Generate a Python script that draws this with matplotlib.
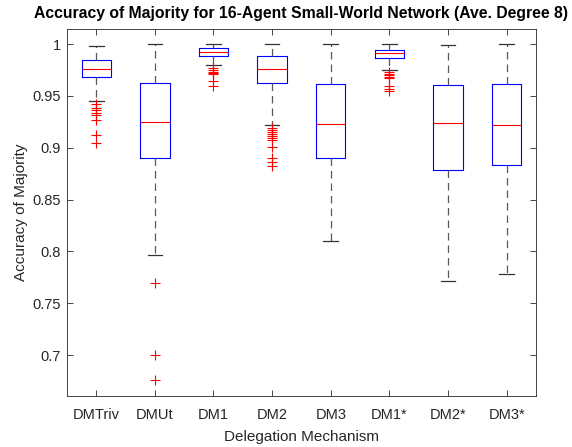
import matplotlib
matplotlib.use('Agg')
import matplotlib.pyplot as plt
from matplotlib.ticker import FuncFormatter

plt.rcParams['font.family'] = ['Liberation Sans', 'DejaVu Sans']

# summary statistics for each delegation mechanism
mechanisms = ['DMTriv', 'DMUt', 'DM1', 'DM2', 'DM3', 'DM1*', 'DM2*', 'DM3*']
whisker_high = [0.9978, 1.0, 1.0, 1.0, 1.0, 0.9998, 0.9987, 1.0]
q3 = [0.9846, 0.9627, 0.9958, 0.9887, 0.9614, 0.9945, 0.9604, 0.9617]
medians = [0.9756, 0.9244, 0.9923, 0.9756, 0.9231, 0.9910, 0.9240, 0.9218]
q1 = [0.9680, 0.8906, 0.9887, 0.9620, 0.8903, 0.9862, 0.8784, 0.8835]
whisker_low = [0.9450, 0.7970, 0.9794, 0.9221, 0.8098, 0.9746, 0.7719, 0.7780]
outliers = [
    [0.9418, 0.9385, 0.9363, 0.9340, 0.9320, 0.9266, 0.9120, 0.9050],
    [0.7693, 0.6998, 0.6757],
    [0.9770, 0.9750, 0.9733, 0.9717, 0.9707, 0.9643, 0.9592],
    [0.9192, 0.9170, 0.9153, 0.9131, 0.9112, 0.9095, 0.9073, 0.9003,
     0.8903, 0.8864, 0.8822],
    [],
    [0.9727, 0.9710, 0.9698, 0.9684, 0.9669, 0.9595, 0.9569, 0.9546],
    [],
    [],
]

stats = []
for i, name in enumerate(mechanisms):
    stats.append(dict(label=name, med=medians[i], q1=q1[i], q3=q3[i],
                      whislo=whisker_low[i], whishi=whisker_high[i],
                      fliers=outliers[i]))

fig = plt.figure(figsize=(5.72, 4.47), dpi=100)
ax = fig.add_axes([0.117, 0.115, 0.82, 0.82])

ax.bxp(stats, positions=range(1, len(mechanisms) + 1), widths=0.5,
       boxprops=dict(color='blue', linewidth=0.8),
       medianprops=dict(color='red', linewidth=0.8),
       whiskerprops=dict(color='0.35', linewidth=0.9, linestyle=(0, (6, 4))),
       capprops=dict(color='0.2', linewidth=0.9),
       flierprops=dict(marker='+', markeredgecolor='red', markersize=7,
                       markeredgewidth=0.8, linestyle='none'))

ax.set_xlim(0.5, 8.5)
ax.set_ylim(0.661, 1.0145)
ax.set_yticks([0.7, 0.75, 0.8, 0.85, 0.9, 0.95, 1.0])
ax.yaxis.set_major_formatter(FuncFormatter(lambda v, p: '%g' % round(v, 2)))

ax.tick_params(direction='in', top=True, right=True, length=4,
               labelsize=10.5, colors='0.15', width=0.6)
ax.tick_params(axis='x', pad=9)
ax.tick_params(axis='y', pad=4.5)
for s in ax.spines.values():
    s.set_color('0.15')
    s.set_linewidth(0.6)

ax.set_xlabel('Delegation Mechanism', fontsize=11, color='0.15', labelpad=6)
ax.set_ylabel('Accuracy of Majority', fontsize=11, color='0.15', labelpad=3)
ax.set_title('Accuracy of Majority for 16-Agent Small-World Network (Ave. Degree 8)',
             fontsize=11.3, fontweight='bold', pad=8)

fig.savefig('out.png', dpi=100, facecolor='white')
